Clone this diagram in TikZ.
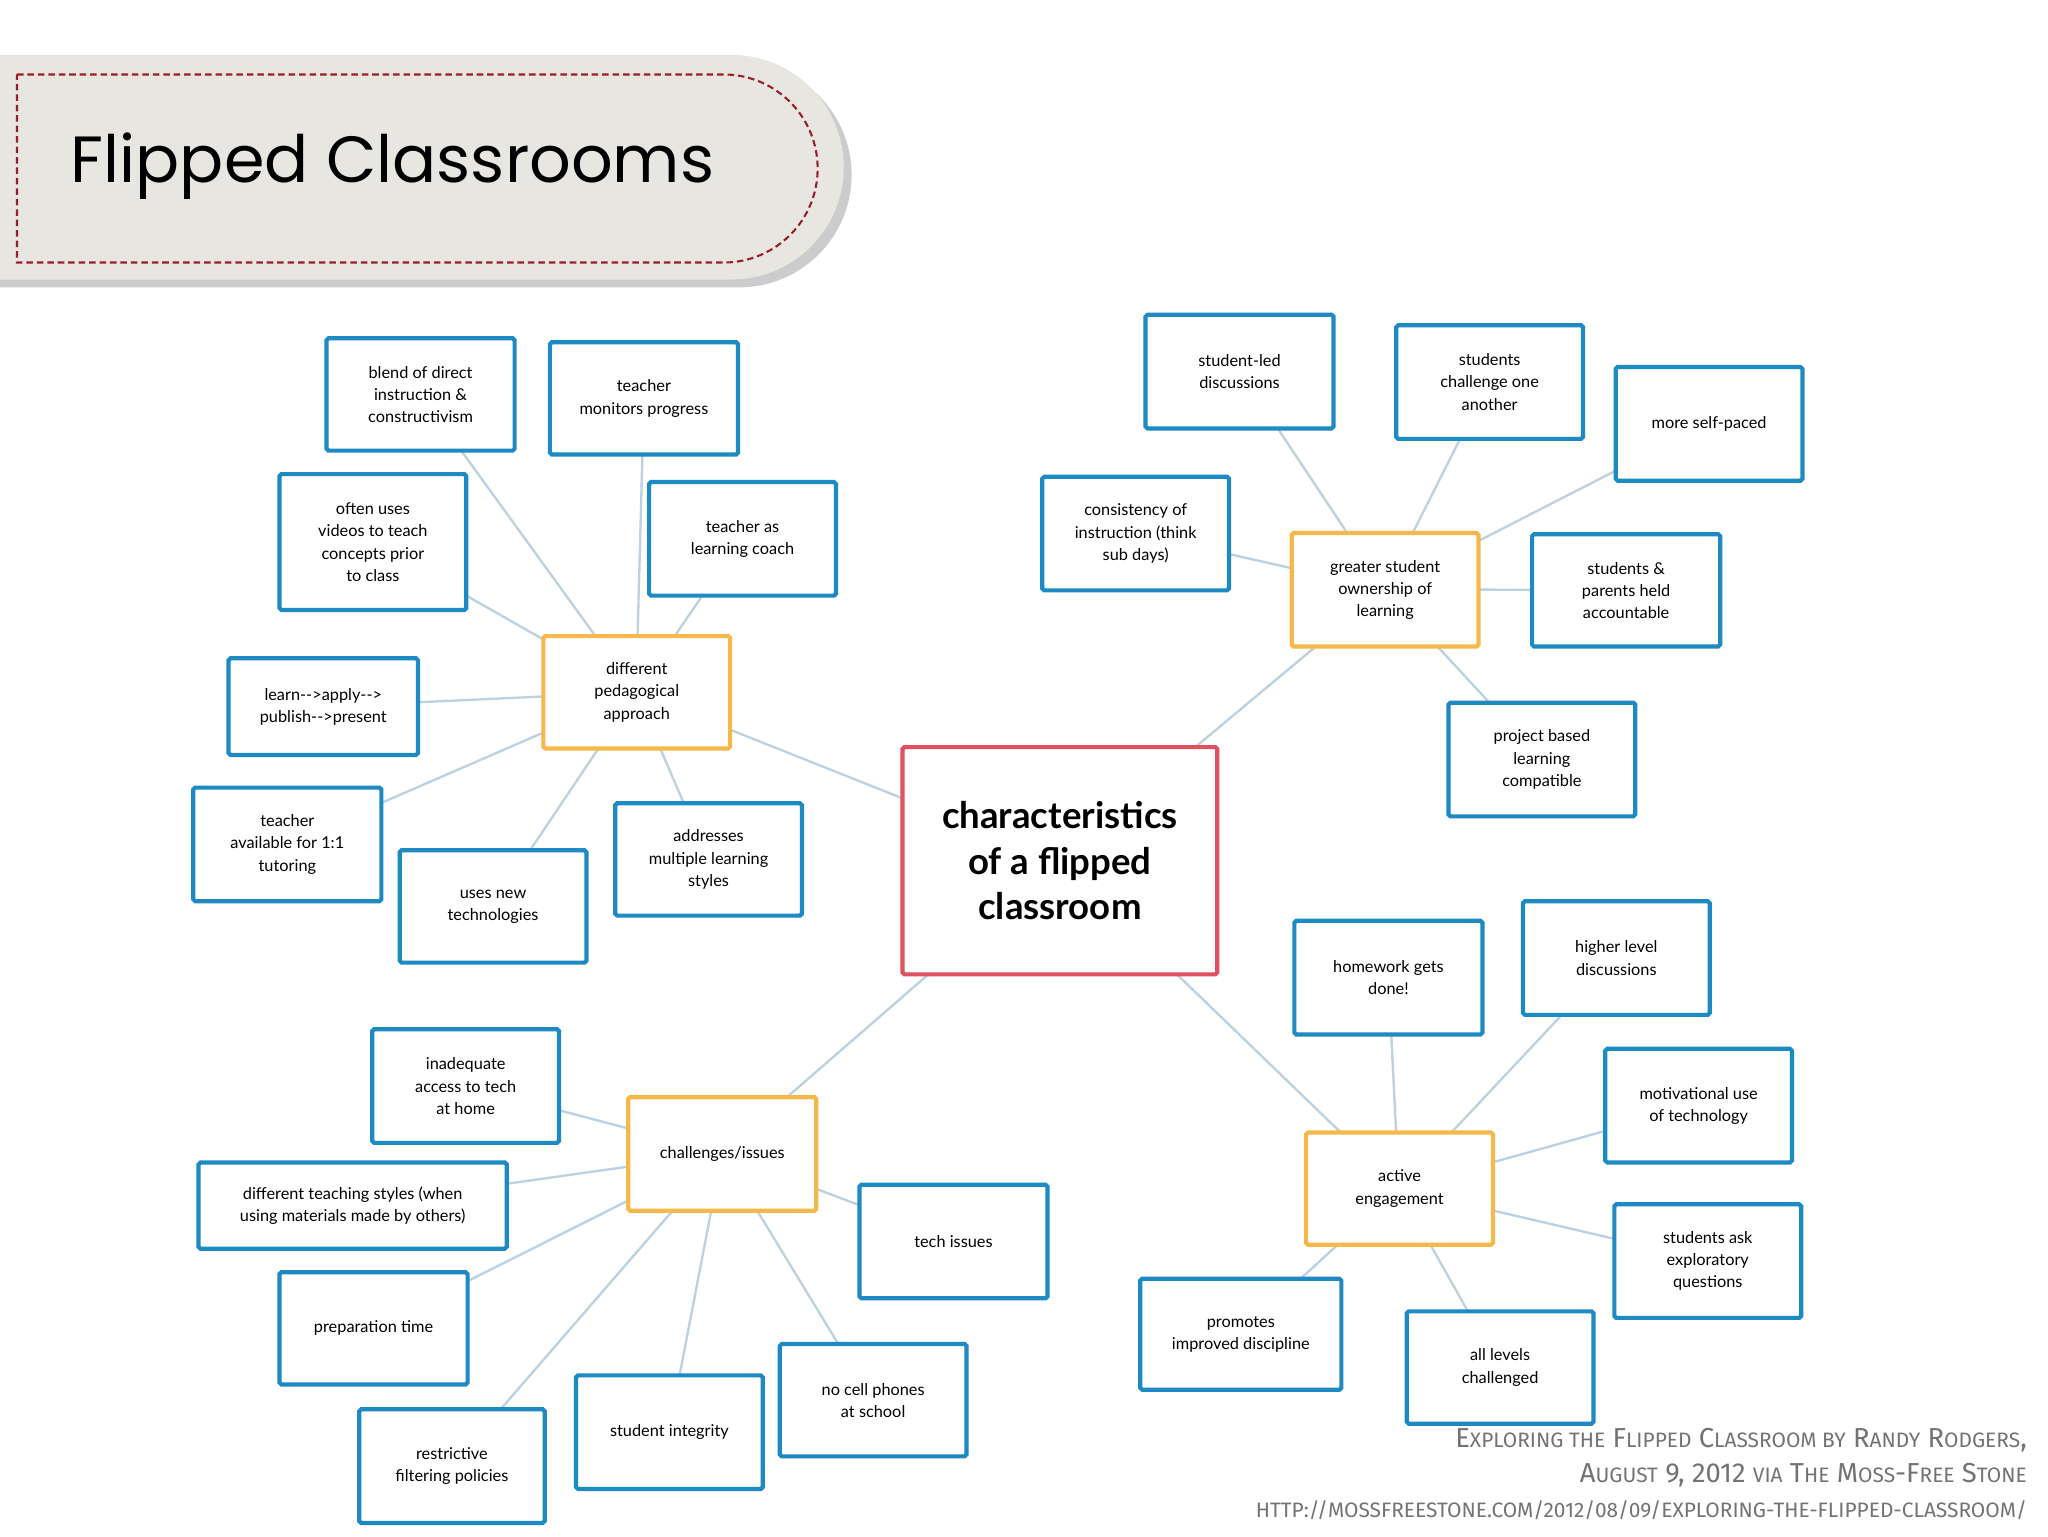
\documentclass[tikz,border=0pt]{standalone}
\usepackage{fontspec}
\setmainfont{Lato}
\newfontfamily\capfont{Fira Sans}
\newfontfamily\titlefont{Poppins}
\definecolor{bblue}{HTML}{1E8AC4}
\definecolor{borange}{HTML}{F5B84A}
\definecolor{bred}{HTML}{E0505E}
\definecolor{lline}{HTML}{BCD2E2}
\definecolor{banner}{HTML}{E8E6E0}
\definecolor{dred}{HTML}{9A1E2A}
\tikzset{
 bx/.style={draw=bblue,line width=3.2pt,fill=white,rounded corners=1.5pt,align=center,font=\fontsize{12.5}{17}\selectfont,inner sep=0pt},
 hub/.style={bx,draw=borange},
 ctr/.style={bx,draw=bred,font=\fontsize{28}{35}\selectfont\bfseries},
 lk/.style={draw=lline,line width=1.8pt}
}
\newcommand\bxn[7]{\node[#7,minimum width={#4-#2},minimum height={#5-#3}] (#1) at ({(#2+#4)/2},{(#3+#5)/2}) {#6};}
\newcommand\sk[2]{#1{\fontsize{16}{16}\selectfont\MakeUppercase{#2}}}
\begin{document}
\begin{tikzpicture}[x=1pt,y=-1pt]
\useasboundingbox (0,0) rectangle (1568,1176);
\fill[white] (0,0) rectangle (1568,1176);
% banner
\fill[gray!40] (0,48) {[rounded corners=86] -- (652,48) -- (652,220)} -- (0,220) -- cycle;
\fill[banner] (0,42) {[rounded corners=86] -- (646,42) -- (646,214)} -- (0,214) -- cycle;
\draw[dred,line width=1.6pt,dash pattern=on 5pt off 3pt] (13,57) {[rounded corners=72] -- (626,57) -- (626,201)} -- (13,201) -- cycle;
\node[anchor=west,inner sep=0pt] (title) at (54,127) {\titlefont\fontsize{50}{50}\selectfont Flipped Classrooms};
% links
\coordinate (cc) at (811,659);
\coordinate (dpc) at (487,530);
\coordinate (gsc) at (1060,451);
\coordinate (chc) at (553,883);
\coordinate (aec) at (1071,910);
\path[lk] (dpc) -- (cc) (gsc) -- (cc) (chc) -- (cc) (aec) -- (cc);
\path[lk] (dpc) -- (322,302) (dpc) -- (493,305) (dpc) -- (285,415) (dpc) -- (568,412) (dpc) -- (247,541) (dpc) -- (220,646) (dpc) -- (377,694) (dpc) -- (542,658);
\path[lk] (gsc) -- (949,284) (gsc) -- (1140,292) (gsc) -- (1308,324) (gsc) -- (869,408) (gsc) -- (1245,452) (gsc) -- (1180,581);
\path[lk] (aec) -- (1063,748) (aec) -- (1237,733) (aec) -- (1300,846) (aec) -- (1307,965) (aec) -- (1148,1047) (aec) -- (950,1021);
\path[lk] (chc) -- (356,831) (chc) -- (270,923) (chc) -- (286,1017) (chc) -- (346,1122) (chc) -- (512,1096) (chc) -- (668,1072) (chc) -- (730,950);
% nodes
\bxn{c}{691}{572}{932}{746}{characteristics\\of a flipped\\classroom}{ctr}
\bxn{dp}{416}{487}{559}{573}{different\\pedagogical\\approach}{hub}
\bxn{gs}{989}{408}{1132}{495}{greater student\\ownership of\\learning}{hub}
\bxn{ch}{481}{840}{625}{927}{challenges/issues}{hub}
\bxn{ae}{1000}{867}{1143}{953}{active\\engagement}{hub}
\bxn{b1}{250}{259}{394}{345}{blend of direct\\instruction \&\\constructivism}{bx}
\bxn{b2}{421}{262}{565}{348}{teacher\\monitors progress}{bx}
\bxn{b3}{214}{363}{357}{467}{often uses\\videos to teach\\concepts prior\\to class}{bx}
\bxn{b4}{497}{369}{640}{456}{teacher as\\learning coach}{bx}
\bxn{b5}{175}{504}{320}{578}{learn-{}-{}>apply-{}-{}>\\publish-{}-{}>present}{bx}
\bxn{b6}{148}{603}{292}{690}{teacher\\available for 1:1\\tutoring}{bx}
\bxn{b7}{306}{651}{449}{737}{uses new\\technologies}{bx}
\bxn{b8}{471}{615}{614}{701}{addresses\\multiple learning\\styles}{bx}
\bxn{g1}{877}{241}{1021}{328}{student-led\\discussions}{bx}
\bxn{g2}{1069}{249}{1212}{336}{students\\challenge one\\another}{bx}
\bxn{g3}{1237}{281}{1380}{368}{more self-paced}{bx}
\bxn{g4}{798}{365}{941}{452}{consistency of\\instruction (think\\sub days)}{bx}
\bxn{g5}{1173}{409}{1317}{495}{students \&\\parents held\\accountable}{bx}
\bxn{g6}{1109}{538}{1252}{625}{project based\\learning\\compatible}{bx}
\bxn{a1}{991}{705}{1135}{792}{homework gets\\done!}{bx}
\bxn{a2}{1166}{690}{1309}{777}{higher level\\discussions}{bx}
\bxn{a3}{1229}{803}{1372}{890}{motivational use\\of technology}{bx}
\bxn{a4}{1236}{922}{1379}{1009}{students ask\\exploratory\\questions}{bx}
\bxn{a5}{1077}{1004}{1220}{1090}{all levels\\challenged}{bx}
\bxn{a6}{873}{979}{1027}{1064}{promotes\\improved discipline}{bx}
\bxn{h1}{285}{788}{428}{875}{inadequate\\access to tech\\at home}{bx}
\bxn{h2}{152}{890}{388}{956}{different teaching styles (when\\using materials made by others)}{bx}
\bxn{h3}{214}{974}{358}{1060}{preparation time}{bx}
\bxn{h4}{275}{1079}{417}{1166}{restrictive\\filtering policies}{bx}
\bxn{h5}{441}{1053}{584}{1140}{student integrity}{bx}
\bxn{h6}{597}{1029}{740}{1115}{no cell phones\\at school}{bx}
\bxn{h7}{658}{907}{802}{994}{tech issues}{bx}
% caption
\node[anchor=north east,align=right,text=gray!90!black,font=\capfont\fontsize{21}{27}\selectfont,inner sep=0pt] (cap) at (1552,1093) {%
\sk{E}{xploring the} \sk{F}{lipped} \sk{C}{lassroom by} \sk{R}{andy} \sk{R}{odgers},\\
\sk{A}{ugust} 9, 2012 \sk{}{via} \sk{T}{he} \sk{M}{oss}-\sk{F}{ree} \sk{S}{tone}\\
\sk{}{http://mossfreestone.com/2012/08/09/exploring-the-flipped-classroom/}};
\end{tikzpicture}
\end{document}
